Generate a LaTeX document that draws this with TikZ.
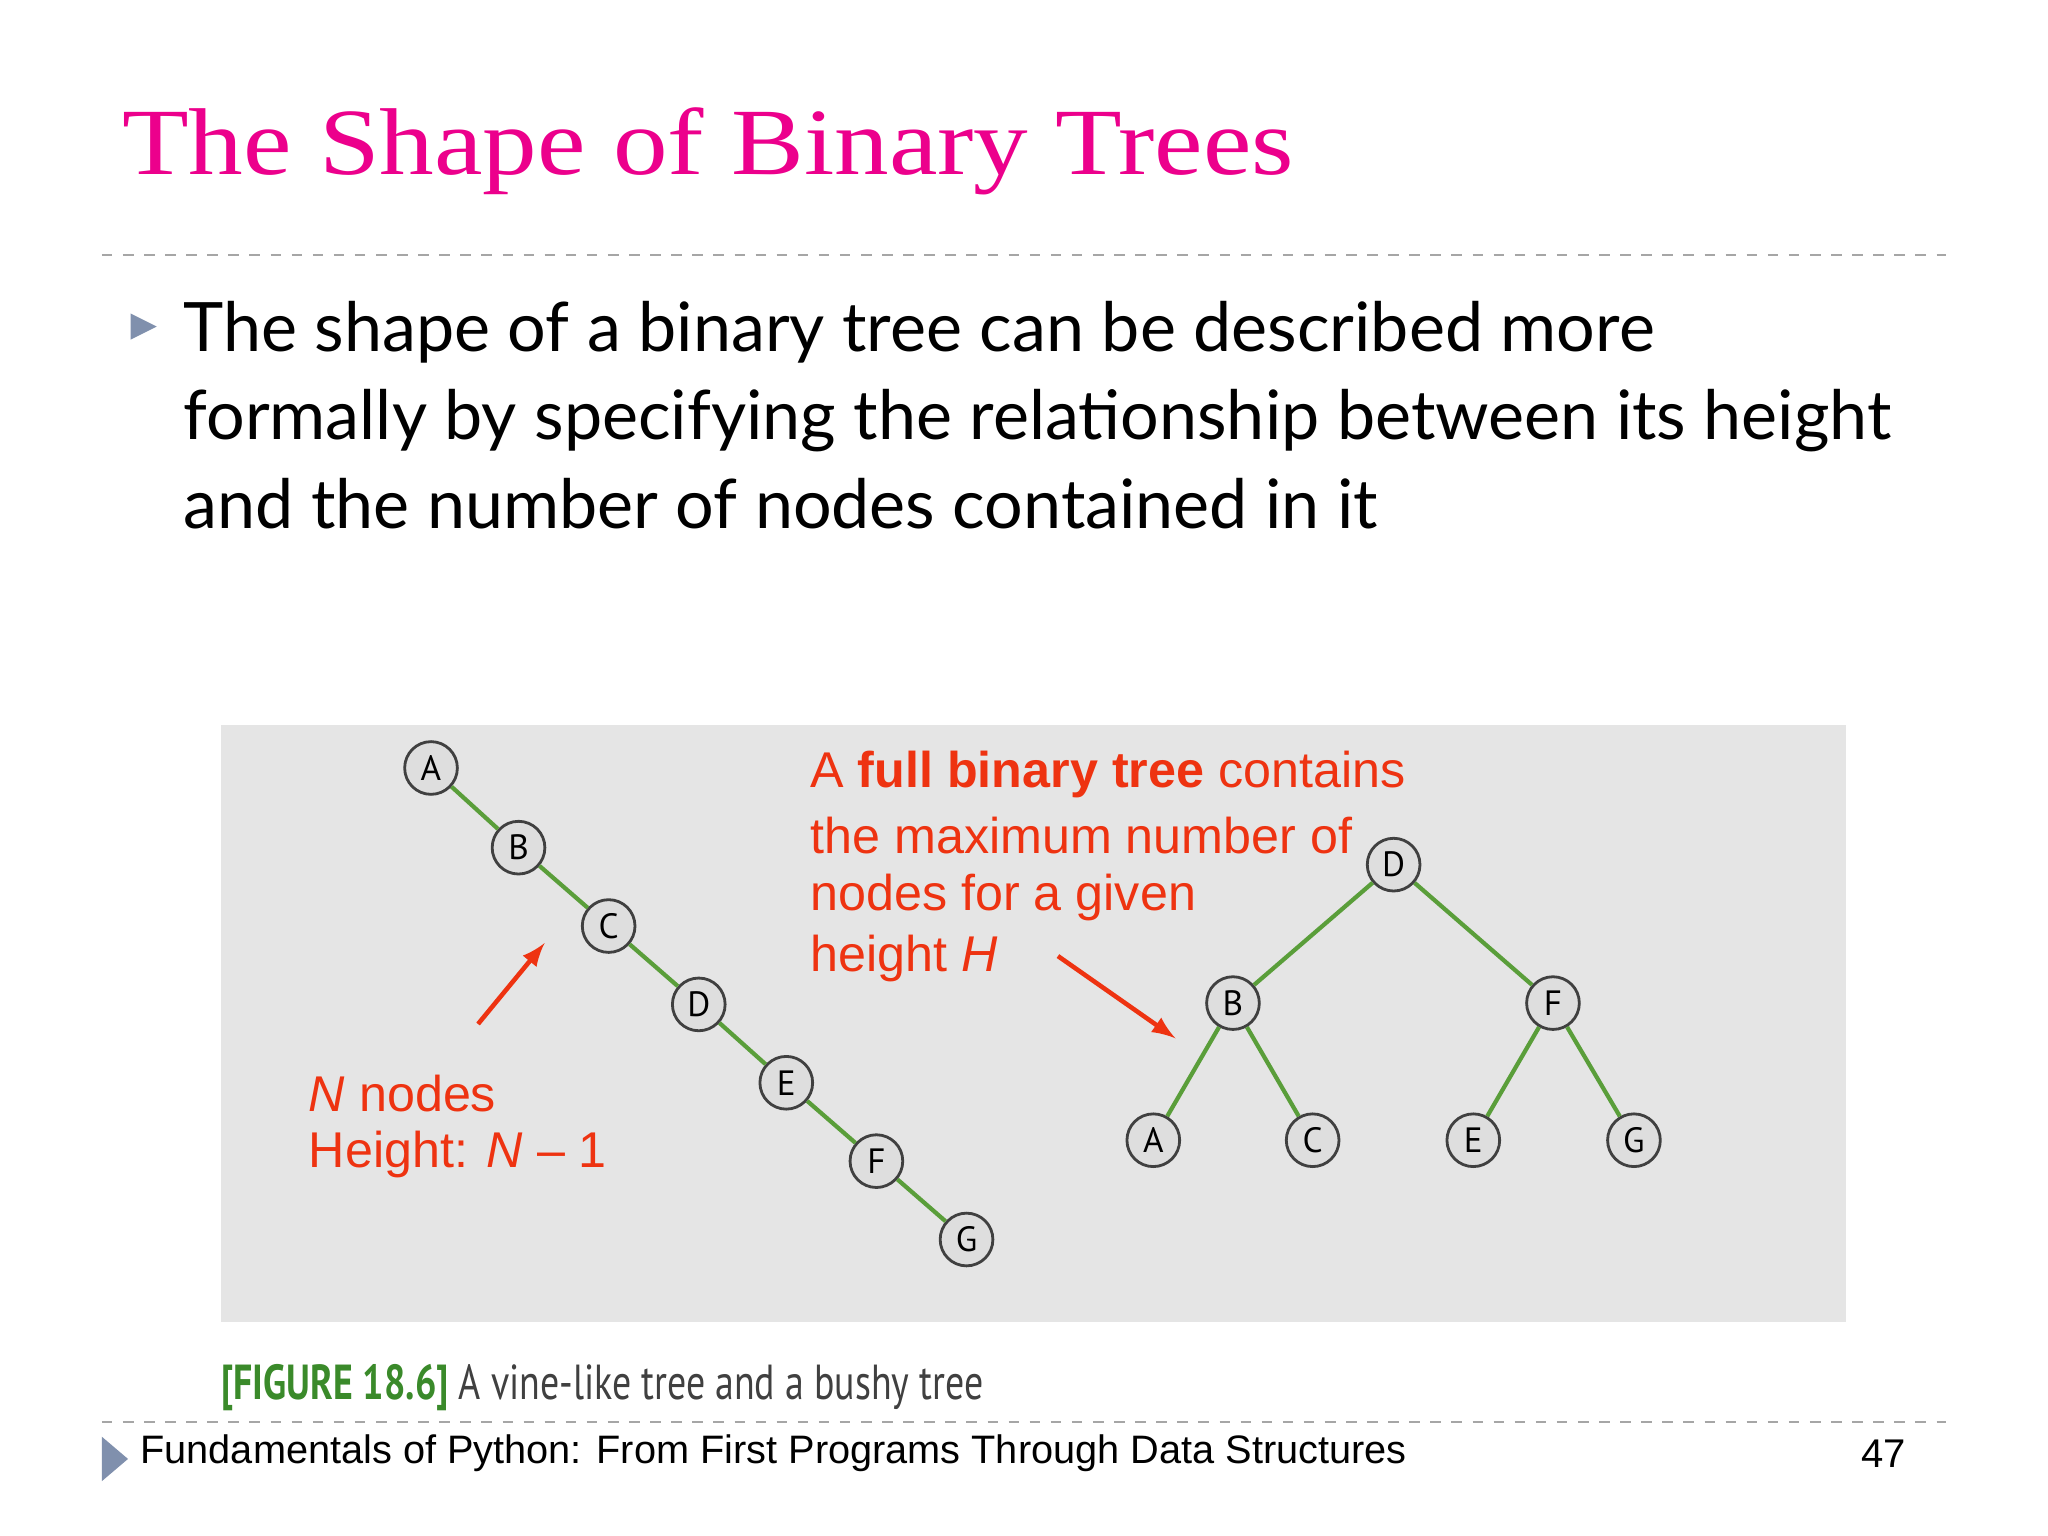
\documentclass[tikz,border=0pt]{standalone}
\usepackage{fontspec}
\setmainfont{Liberation Serif}
\newfontfamily\bodyf{Lato}
\newfontfamily\arialf{Liberation Sans}
\newfontfamily\capf{PT Sans}
\begin{document}
\begin{tikzpicture}[x=0.01306cm,y=-0.01306cm,
  tn/.style={circle,draw=black!75,fill=black!13,line width=0.8pt,minimum size=15pt,inner sep=0pt,font=\capf\fontsize{10}{10}\selectfont},
  ed/.style={draw=edg,line width=1.2pt},
  red/.style={text=redc,font=\arialf\fontsize{14.3}{17}\selectfont,anchor=west},
  rarr/.style={draw=redc,line width=1.3pt,-latex}]
\definecolor{redc}{HTML}{EE3311}
\definecolor{tri}{HTML}{8090AD}
\definecolor{edg}{HTML}{5A9E3A}
\definecolor{capg}{HTML}{3A8A2A}
\useasboundingbox (0,0) rectangle (1568,1176);
\fill[white] (0,0) rectangle (1568,1176);
\node[anchor=west,inner sep=0pt,text=magenta,font=\fontsize{27}{30}\selectfont] (title) at (93,116) {\scalebox{1.15}[1]{The Shape of Binary Trees}};
\draw[black!35,dashed,line width=0.6pt] (78,195) -- (1490,195);
\fill[tri] (100,240) -- (120,250) -- (100,260) -- cycle;
\node[anchor=north west,align=left,font=\bodyf\fontsize{19.4}{25.2}\selectfont,inner sep=0pt] (body) at (140,230)
 {The shape of a binary tree can be described more\\formally by specifying the relationship between its height\\and the number of nodes contained in it};
\fill[black!10] (169,555) rectangle (1413,1012);
% vine
\foreach \n/\x/\y in {A/330/588,B/397/649,C/466/709,D/535/769,E/602/829,F/671/889,G/740/949}
  \node[tn] (v\n) at (\x,\y) {\n};
\foreach \a/\b in {A/B,B/C,C/D,D/E,E/F,F/G} \draw[ed] (v\a) -- (v\b);
% bushy
\foreach \n/\x/\y in {D/1067/662,B/944/768,F/1189/768,A/883/873,C/1005/873,E/1128/873,G/1251/873}
  \node[tn] (b\n) at (\x,\y) {\n};
\foreach \a/\b in {D/B,D/F,B/A,B/C,F/E,F/G} \draw[ed] (b\a) -- (b\b);
\node[red] (t1) at (611,593) {A \textbf{full binary tree} contains};
\node[red] (t2) at (611,640) {the maximum number of};
\node[red] (t3) at (611,687) {nodes for a given};
\node[red] (t4) at (611,734) {height \textit{H}};
\node[red] (n1) at (227,837) {\textit{N} nodes};
\node[red] (n2) at (227,884) {Height: \textit{N} – 1};
\coordinate (a1s) at (366,784); \coordinate (a1e) at (417,722);
\coordinate (a2s) at (810,732); \coordinate (a2e) at (900,795);
\draw[rarr] (a1s) -- (a1e);
\draw[rarr] (a2s) -- (a2e);
\node[anchor=west,inner sep=0pt,font=\capf\fontsize{14}{16}\selectfont] (cap) at (169,1062)
 {\scalebox{0.77}[1]{\textcolor{capg}{\textbf{[FIGURE 18.6]}} \textcolor{black!75}{A vine-like tree and a bushy tree}}};
\draw[black!35,dashed,line width=0.6pt] (78,1089) -- (1490,1089);
\fill[tri] (78,1100) -- (98,1117) -- (78,1134) -- cycle;
\node[anchor=west,inner sep=0pt,font=\arialf\fontsize{11.3}{13}\selectfont] (foot) at (107,1113) {Fundamentals of Python: From First Programs Through Data Structures};
\node[anchor=east,inner sep=0pt,font=\arialf\fontsize{11.4}{13}\selectfont] (pg) at (1460,1113) {47};
\end{tikzpicture}
\end{document}
